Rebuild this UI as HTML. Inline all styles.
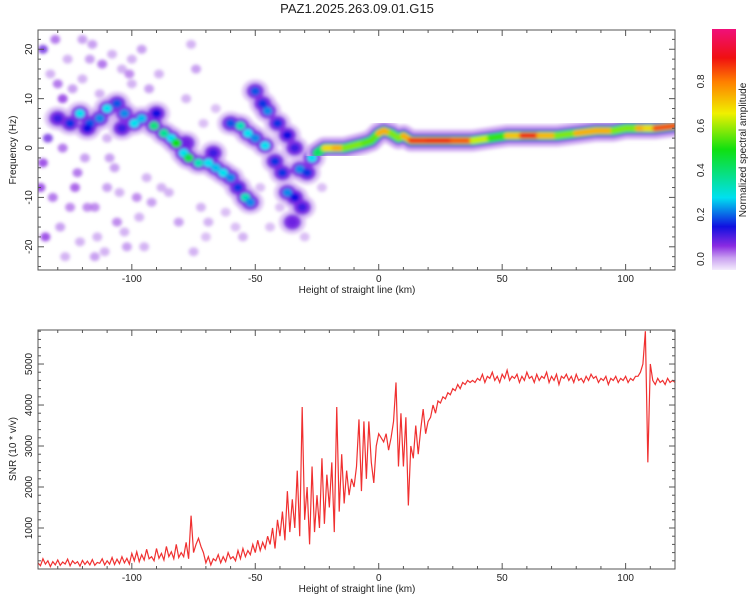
<!DOCTYPE html>
<html><head><meta charset="utf-8"><style>
body{margin:0;background:#fff;font-family:"Liberation Sans",sans-serif}
svg text{font-family:"Liberation Sans",sans-serif;fill:#222}
</style></head><body>
<svg id="c" width="750" height="600" xmlns="http://www.w3.org/2000/svg">
<defs>
<linearGradient id="cmap" x1="0" y1="1" x2="0" y2="0">
<stop offset="0" stop-color="#f4ecfc"/><stop offset="0.05" stop-color="#c9a0f0"/><stop offset="0.1" stop-color="#8a2be2"/><stop offset="0.18" stop-color="#1010e0"/><stop offset="0.3" stop-color="#00e0f0"/><stop offset="0.5" stop-color="#10e010"/><stop offset="0.65" stop-color="#f0f000"/><stop offset="0.78" stop-color="#ff8000"/><stop offset="0.88" stop-color="#f01010"/><stop offset="1" stop-color="#f0107a"/>
</linearGradient>
<filter id="blur"><feGaussianBlur stdDeviation="1.6"/></filter>
<clipPath id="clipTop"><rect x="38" y="30" width="637" height="240"/></clipPath>
<clipPath id="clipBot"><rect x="38" y="330" width="637" height="239"/></clipPath>
</defs>
<text x="357" y="13" text-anchor="middle" font-size="13">PAZ1.2025.263.09.01.G15</text>
<g id="topPanel" clip-path="url(#clipTop)"></g>
<g id="botPanel" clip-path="url(#clipBot)"></g>
<g id="axes"></g>
<rect x="712" y="29" width="24" height="241" fill="url(#cmap)"/>
<g id="cbar"></g>
<text transform="translate(746,150) rotate(-90)" text-anchor="middle" font-size="10">Normalized spectral amplitude</text>
</svg>
<script>
const NS="http://www.w3.org/2000/svg";
// ---- data ----
const xTicks=[-100,-50,0,50,100];
const fTicks=[-20,-10,0,10,20];
const snrTicks=[1000,2000,3000,4000,5000];
const cbTicks=[0.0,0.2,0.4,0.6,0.8];
const ridgeH=[-25,-22,-18,-14,-10,-6,-3,0,2,5,8,10,13,20,30,38,45,52,58,65,72,80,88,95,100,105,108,110,112,120];
const ridgeF=[-1,0,0,0,0.5,1,1.5,3,3.5,3,2,2.5,1.5,1.5,1.5,1.5,2,2.5,2.5,2.5,2.5,3,3.5,3.5,4,4,4,4,4,4.5];
const ridgeA=[0.35,0.5,0.85,0.6,0.55,0.6,0.5,0.6,0.85,0.6,0.55,0.6,0.85,0.85,0.88,0.75,0.5,0.55,0.85,0.88,0.55,0.6,0.85,0.6,0.55,0.6,0.85,0.5,0.85,0.8];
const blobH=[-130,-125,-121,-117,-113,-110,-106,-103,-99,-96,-91,-87,-84,-82,-79,-77,-73,-69,-66,-63,-60,-57,-54,-52,-118,-104,-90,-78,-67,-60,-56,-53,-50,-46,-42,-39,-37,-34,-31,-50,-47,-45,-41,-37,-34,-32,-29,-27,-35];
const blobF=[6,5,7,5,6,8,9,7,5,6,4.5,3,2,1,-1,-2,-3,-3,-4,-5,-6,-8,-10,-11,4,4,7,1,-1,5,4.5,3,2,0.5,-2.7,-5,-9,-10,-12,11.5,9,7.5,5,2.6,0,-4.3,-5,-2,-15];
const blobA=[0.15,0.2,0.3,0.22,0.25,0.3,0.22,0.25,0.3,0.28,0.4,0.38,0.3,0.5,0.3,0.45,0.35,0.3,0.28,0.3,0.25,0.2,0.35,0.25,0.18,0.15,0.18,0.12,0.15,0.22,0.35,0.3,0.25,0.3,0.2,0.2,0.25,0.18,0.15,0.22,0.2,0.25,0.2,0.18,0.15,0.25,0.2,0.3,0.12];
const noiseH=[-136,-133,-131,-128,-126,-124,-122,-120,-118,-116,-114,-112,-110,-108,-106,-104,-102,-100,-98,-96,-94,-136,-132,-129,-127,-123,-121,-119,-115,-111,-107,-103,-97,-93,-88,-76,-74,-72,-70,-78,-75,-71,-69,-137,-134,-130,-125,-117,-113,-109,-105,-101,-95,-92,-89,-85,-81,-66,-62,-58,-55,-48,-44,-40,-30,-23,-120,-110,-100,-128,-135,-115];
const noiseF=[20,15,22,10,18,12,-5,14,-12,21,-18,17,-8,19,-15,16,-20,13,-10,20,-6,-3,-10,-16,-22,-8,-19,-2,-12,-21,-4,-17,-14,12,-8,21,16,-12,-18,10,-21,5,-15,-8,2,13,-12,18,11,-2,-9,15,-20,-11,15,-9,-15,8,-13,-16,-18,-8,-16,-12,-18,-8,22,2,18,0,-18,-22];
const noiseA=[0.12,0.05,0.08,0.1,0.05,0.06,0.08,0.05,0.07,0.06,0.05,0.08,0.06,0.05,0.07,0.05,0.06,0.05,0.07,0.06,0.05,0.1,0.08,0.06,0.05,0.09,0.05,0.06,0.07,0.05,0.06,0.05,0.05,0.06,0.05,0.05,0.06,0.05,0.04,0.05,0.05,0.04,0.05,0.1,0.12,0.08,0.07,0.06,0.05,0.06,0.05,0.07,0.05,0.06,0.05,0.05,0.06,0.04,0.04,0.04,0.05,0.04,0.04,0.04,0.04,0.04,0.06,0.05,0.05,0.08,0.1,0.06];
const snrStart=-138;
const snr=[150,80,250,120,200,60,180,100,220,90,170,120,240,80,200,130,180,70,210,110,190,100,230,90,160,140,250,100,200,120,280,110,240,130,300,150,260,120,380,
200,420,180,350,220,480,250,300,200,500,260,380,220,550,300,420,250,600,280,400,
300,650,250,1300,400,600,750,550,400,150,300,100,250,200,350,150,300,180,400,250,
300,200,450,250,500,300,450,350,600,400,700,450,650,500,800,
600,1000,500,1200,800,1400,700,1900,900,1700,1000,2400,800,3950,1200,2000,600,2500,900,1800,
1000,2700,1100,2300,1500,2600,900,3950,1400,2800,1600,2400,1800,2200,2000,
2500,3650,1900,3600,2200,3600,2600,2100,3000,3300,
3200,3100,3300,2900,3200,3600,4550,2500,3800,2500,3700,1550,3000,2700,3500,2800,3400,3900,3300,3600,
3700,4000,3800,4100,4050,4200,4150,4300,4250,4400,4350,4500,4400,4550,4500,4600,4550,4600,4550,4650,
4600,4750,4550,4700,4650,4800,4600,4700,4550,4750,4650,4850,4600,4700,4650,4750,4550,4700,4600,4800,4650,4700,4550,4750,4600,4700,4650,4800,4550,4700,4600,4750,4500,4700,4650,4750,4600,4700,4550,4750,4600,4650,4550,4700,4600,4750,4650,4700,4550,4650,4600,4700,4500,4650,4600,4700,4550,4650,4600,4700,4550,4650,4600,4700,
4700,4800,5000,5800,2600,5000,
4600,4500,4650,4550,4600,4500,4650,4550,4600,4550];
// ---- scales ----
const X0=38,X1=675,HMIN=-138,HMAX=120;
const xs=h=>X0+(h-HMIN)/(HMAX-HMIN)*(X1-X0);
const FT=30,FB=270,FMIN=-24.7,FMAX=23.9;
const fy=f=>FB-(f-FMIN)/(FMAX-FMIN)*(FB-FT);
const ST=330,SB=569,SMIN=0,SMAX=5830;
const sy=v=>SB-(v-SMIN)/(SMAX-SMIN)*(SB-ST);
const stops=[[0,[244,236,252]],[0.05,[201,160,240]],[0.1,[138,43,226]],[0.18,[16,16,224]],[0.3,[0,224,240]],[0.5,[16,224,16]],[0.65,[240,240,0]],[0.78,[255,128,0]],[0.88,[240,16,16]],[1,[240,16,122]]];
function cmap(a){a=Math.max(0,Math.min(1,a));for(let i=1;i<stops.length;i++){if(a<=stops[i][0]){const t0=stops[i-1][0],c0=stops[i-1][1],t1=stops[i][0],c1=stops[i][1];const t=(a-t0)/(t1-t0);return 'rgb('+c0.map((c,k)=>Math.round(c+(c1[k]-c)*t)).join(',')+')';}}return 'rgb(240,16,122)';}
function mk(tag,at,parent){const e=document.createElementNS(NS,tag);for(const k in at)e.setAttribute(k,at[k]);parent.appendChild(e);return e;}
const gTop=document.getElementById('topPanel'),gBot=document.getElementById('botPanel'),axes=document.getElementById('axes');
// noise
const gN=mk('g',{filter:'url(#blur)'},gTop);


noiseH.forEach((h,i)=>{const e=mk('ellipse',{cx:xs(h),cy:fy(noiseF[i]),rx:5,ry:4.5,fill:cmap(noiseA[i]),opacity:0.8},gN);

});
// blobs layered
const gB=mk('g',{filter:'url(#blur)'},gTop);


const layers=[[3.0,v=>0.04,0.7],[2.0,v=>Math.min(v,0.11),0.9],[1.1,v=>v,1]];
layers.forEach(L=>{const s=L[0],fa=L[1],op=L[2];
blobH.forEach((h,i)=>{const e=mk('ellipse',{cx:xs(h),cy:fy(blobF[i]),rx:4.5*s,ry:4*s,fill:cmap(fa(blobA[i])),opacity:op},gB);

});});
// ridge
const gR=mk('g',{filter:'url(#blur)'},gTop);


const pts=ridgeH.map((h,i)=>xs(h)+','+fy(ridgeF[i])).join(' ');
let pl=mk('polyline',{points:pts,fill:'none',stroke:cmap(0.04),'stroke-width':22,'stroke-linejoin':'round','stroke-linecap':'round'},gR);


pl=mk('polyline',{points:pts,fill:'none',stroke:cmap(0.12),'stroke-width':14,'stroke-linejoin':'round','stroke-linecap':'round'},gR);


pl=mk('polyline',{points:pts,fill:'none',stroke:cmap(0.42),'stroke-width':9,'stroke-linejoin':'round','stroke-linecap':'round'},gR);


for(let i=0;i<ridgeH.length-1;i++){const a=(ridgeA[i]+ridgeA[i+1])/2;
const ln=mk('line',{x1:xs(ridgeH[i]),y1:fy(ridgeF[i]),x2:xs(ridgeH[i+1]),y2:fy(ridgeF[i+1]),stroke:cmap(a),'stroke-width':6,'stroke-linecap':'round'},gR);

}
// snr line
const sp=mk('polyline',{points:snr.map((v,i)=>xs(snrStart+i)+','+sy(v)).join(' '),fill:'none',stroke:'#f03030','stroke-width':1.2},gBot);


// axes
function frame(t,b,name){const r=mk('rect',{x:X0,y:t,width:X1-X0,height:b-t,fill:'none',stroke:'#555','stroke-width':1},axes);


for(let h=-130;h<=120;h+=10){const x=xs(h),L=h%50===0?6:3;mk('line',{x1:x,y1:t,x2:x,y2:t+L,stroke:'#555'},axes);mk('line',{x1:x,y1:b,x2:x,y2:b-L,stroke:'#555'},axes);}
xTicks.forEach(h=>{const tx=mk('text',{x:xs(h),y:b+12,'text-anchor':'middle','font-size':10},axes);tx.textContent=h;

});
const xl=mk('text',{x:357,y:b+23,'text-anchor':'middle','font-size':10},axes);xl.textContent='Height of straight line (km)';

}
frame(FT,FB,'spectrogram-frame');frame(ST,SB,'snr-frame');
for(let f=-24;f<=22;f+=2){const y=fy(f),L=f%10===0?6:3;mk('line',{x1:X0,y1:y,x2:X0+L,y2:y,stroke:'#555'},axes);mk('line',{x1:X1,y1:y,x2:X1-L,y2:y,stroke:'#555'},axes);}
fTicks.forEach(f=>{const t=mk('text',{transform:'translate(32,'+fy(f)+') rotate(-90)','text-anchor':'middle','font-size':10},axes);t.textContent=f;

});
for(let v=200;v<=5800;v+=200){const y=sy(v),L=v%1000===0?6:3;mk('line',{x1:X0,y1:y,x2:X0+L,y2:y,stroke:'#555'},axes);mk('line',{x1:X1,y1:y,x2:X1-L,y2:y,stroke:'#555'},axes);}
snrTicks.forEach(v=>{const t=mk('text',{transform:'translate(32,'+sy(v)+') rotate(-90)','text-anchor':'middle','font-size':10},axes);t.textContent=v;

});
let yt=mk('text',{transform:'translate(16,150) rotate(-90)','text-anchor':'middle','font-size':10},axes);yt.textContent='Frequency (Hz)';


yt=mk('text',{transform:'translate(16,449) rotate(-90)','text-anchor':'middle','font-size':10},axes);yt.textContent='SNR (10 * v/v)';


const cb=document.getElementById('cbar');
cbTicks.forEach(v=>{const y=259-v*222;const t=mk('text',{transform:'translate(704,'+y+') rotate(-90)','text-anchor':'middle','font-size':10},cb);t.textContent=v.toFixed(1);

});
</script>
</body></html>
